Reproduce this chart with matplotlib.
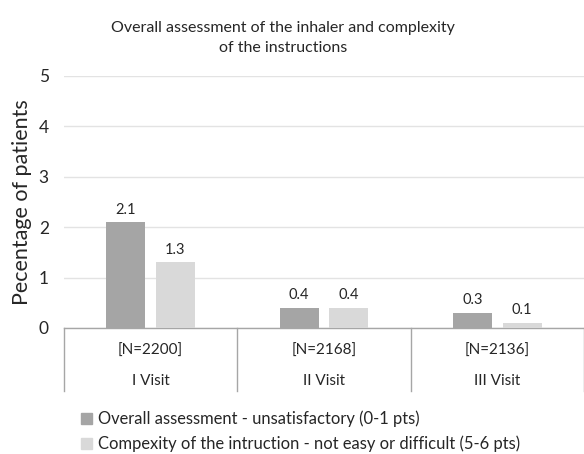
import numpy as np
import matplotlib.pyplot as plt
import matplotlib.transforms as mtransforms
from matplotlib.patches import Patch

# data
visits = ["I Visit", "II Visit", "III Visit"]
n_labels = ["[N=2200]", "[N=2168]", "[N=2136]"]
overall_unsat = [2.1, 0.4, 0.3]
complexity_hard = [1.3, 0.4, 0.1]
series_names = [
    "Overall assessment - unsatisfactory (0-1 pts)",
    "Compexity of the intruction - not easy or difficult (5-6 pts)",
]

plt.rcParams["font.family"] = ["Lato", "DejaVu Sans"]

DARK = "#a5a5a5"
LIGHT = "#d9d9d9"
AXIS_GRAY = "#a6a6a6"
TEXT = "#262626"

fig = plt.figure(figsize=(5.84, 4.54), dpi=100)
ax = fig.add_axes([64 / 584, 1 - 328 / 454, 520 / 584, 252 / 454])

x = np.arange(len(visits))
w = 0.225
off = 0.143

b1 = ax.bar(x - off, overall_unsat, w, color=DARK, zorder=3)
b2 = ax.bar(x + off, complexity_hard, w, color=LIGHT, zorder=3)
ax.bar_label(b1, labels=[f"{v:.1f}" for v in overall_unsat], padding=4,
             fontsize=10.5, color=TEXT)
ax.bar_label(b2, labels=[f"{v:.1f}" for v in complexity_hard], padding=4,
             fontsize=10.5, color=TEXT)

ax.set_xlim(-0.5, 2.5)
ax.set_ylim(0, 5)
ax.set_yticks([0, 1, 2, 3, 4, 5])
ax.set_xticks([])
ax.tick_params(axis="y", length=0, pad=11, labelsize=12.5, labelcolor=TEXT)
ax.yaxis.grid(True, color="#e3e3e3", linewidth=1, zorder=0)
for s in ["top", "right", "left"]:
    ax.spines[s].set_visible(False)
ax.spines["bottom"].set_color(AXIS_GRAY)
ax.spines["bottom"].set_linewidth(1)

ax.set_ylabel("Pecentage of patients", fontsize=15.5, color=TEXT, labelpad=5)

# category table below the axis
trans = mtransforms.blended_transform_factory(ax.transData, ax.transAxes)
for xb in [-0.5, 0.5, 1.5, 2.5]:
    ax.plot([xb, xb], [0, -0.25], transform=trans, color=AXIS_GRAY,
            linewidth=1, clip_on=False)
for i in range(len(visits)):
    ax.text(x[i], -0.092, n_labels[i], transform=trans, ha="center",
            va="center", fontsize=11, color=TEXT)
    ax.text(x[i], -0.21, visits[i], transform=trans, ha="center",
            va="center", fontsize=11, color=TEXT)

fig.suptitle("Overall assessment of the inhaler and complexity\nof the instructions",
             x=0.485, y=0.953, fontsize=11.5, color=TEXT, linespacing=1.5)

handles = [Patch(color=DARK), Patch(color=LIGHT)]
fig.legend(handles, series_names, loc="upper left",
           bbox_to_anchor=(66 / 584, 1 - 396 / 454), frameon=False,
           fontsize=11.9, handlelength=0.65, handleheight=0.65,
           handletextpad=0.4, labelspacing=0.5, labelcolor=TEXT)

fig.savefig("out.png", dpi=100)
